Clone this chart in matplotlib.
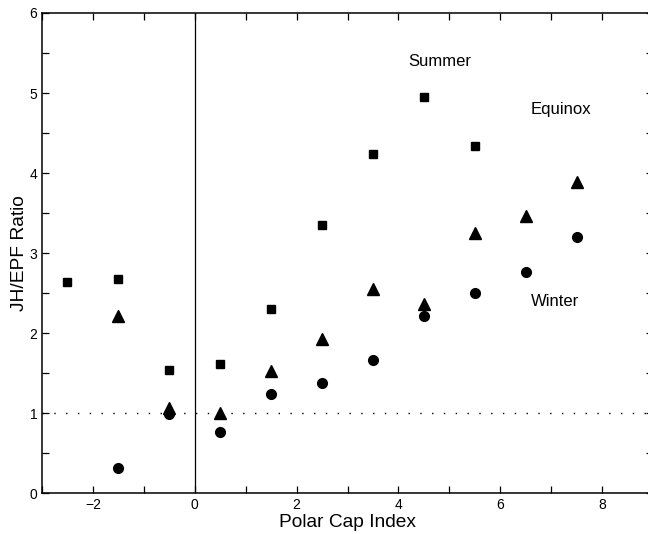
import matplotlib.pyplot as plt
from matplotlib.ticker import MultipleLocator

plt.rcParams['font.family'] = ['Liberation Sans', 'DejaVu Sans']

# Polar cap index bins and JH/EPF ratio per season
pci = [-2.5, -1.5, -0.5, 0.5, 1.5, 2.5, 3.5, 4.5, 5.5, 6.5, 7.5]
summer = [2.64, 2.675, 1.545, 1.61, 2.30, 3.35, 4.24, 4.945, 4.34, None, None]
equinox = [None, 2.215, 1.07, 1.0, 1.53, 1.925, 2.55, 2.37, 3.25, 3.47, 3.89]
winter = [None, 0.316, 0.99, 0.766, 1.24, 1.38, 1.67, 2.21, 2.50, 2.77, 3.20]


def pairs(vals):
    xs = [x for x, v in zip(pci, vals) if v is not None]
    ys = [v for v in vals if v is not None]
    return xs, ys


fig = plt.figure(figsize=(6.48, 5.34), dpi=100)
W, H = 648, 534
ax = fig.add_axes([42 / W, 1 - 493.3 / H, (653 - 42) / W, (493.3 - 13) / H])

ax.axvline(0, color='black', lw=0.9)
ax.axhline(1, color='black', lw=1.0, ls=(0, (1, 7.5)))

xs, ys = pairs(summer)
ax.plot(xs, ys, 's', color='black', ms=5.8, ls='none')
xs, ys = pairs(equinox)
ax.plot(xs, ys, '^', color='black', ms=8, ls='none')
xs, ys = pairs(winter)
ax.plot(xs, ys, 'o', color='black', ms=7, ls='none')

ax.text(4.81, 5.40, 'Summer', fontsize=12, ha='center', va='center')
ax.text(7.19, 4.79, 'Equinox', fontsize=12, ha='center', va='center')
ax.text(7.07, 2.39, 'Winter', fontsize=12, ha='center', va='center')

ax.set_xlim(-3, 9)
ax.set_ylim(0, 6)
ax.xaxis.set_major_locator(MultipleLocator(2))
ax.xaxis.set_minor_locator(MultipleLocator(1))
ax.yaxis.set_major_locator(MultipleLocator(1))
ax.yaxis.set_minor_locator(MultipleLocator(0.5))
ax.tick_params(which='both', direction='in', top=True, right=True,
               labelsize=10, width=0.9, length=5)
for s in ax.spines.values():
    s.set_linewidth(1.1)

ax.set_xlabel('Polar Cap Index', fontsize=13.8, labelpad=1)
ax.set_ylabel('JH/EPF Ratio', fontsize=13.8, labelpad=1)

fig.savefig('out.png', dpi=100)
